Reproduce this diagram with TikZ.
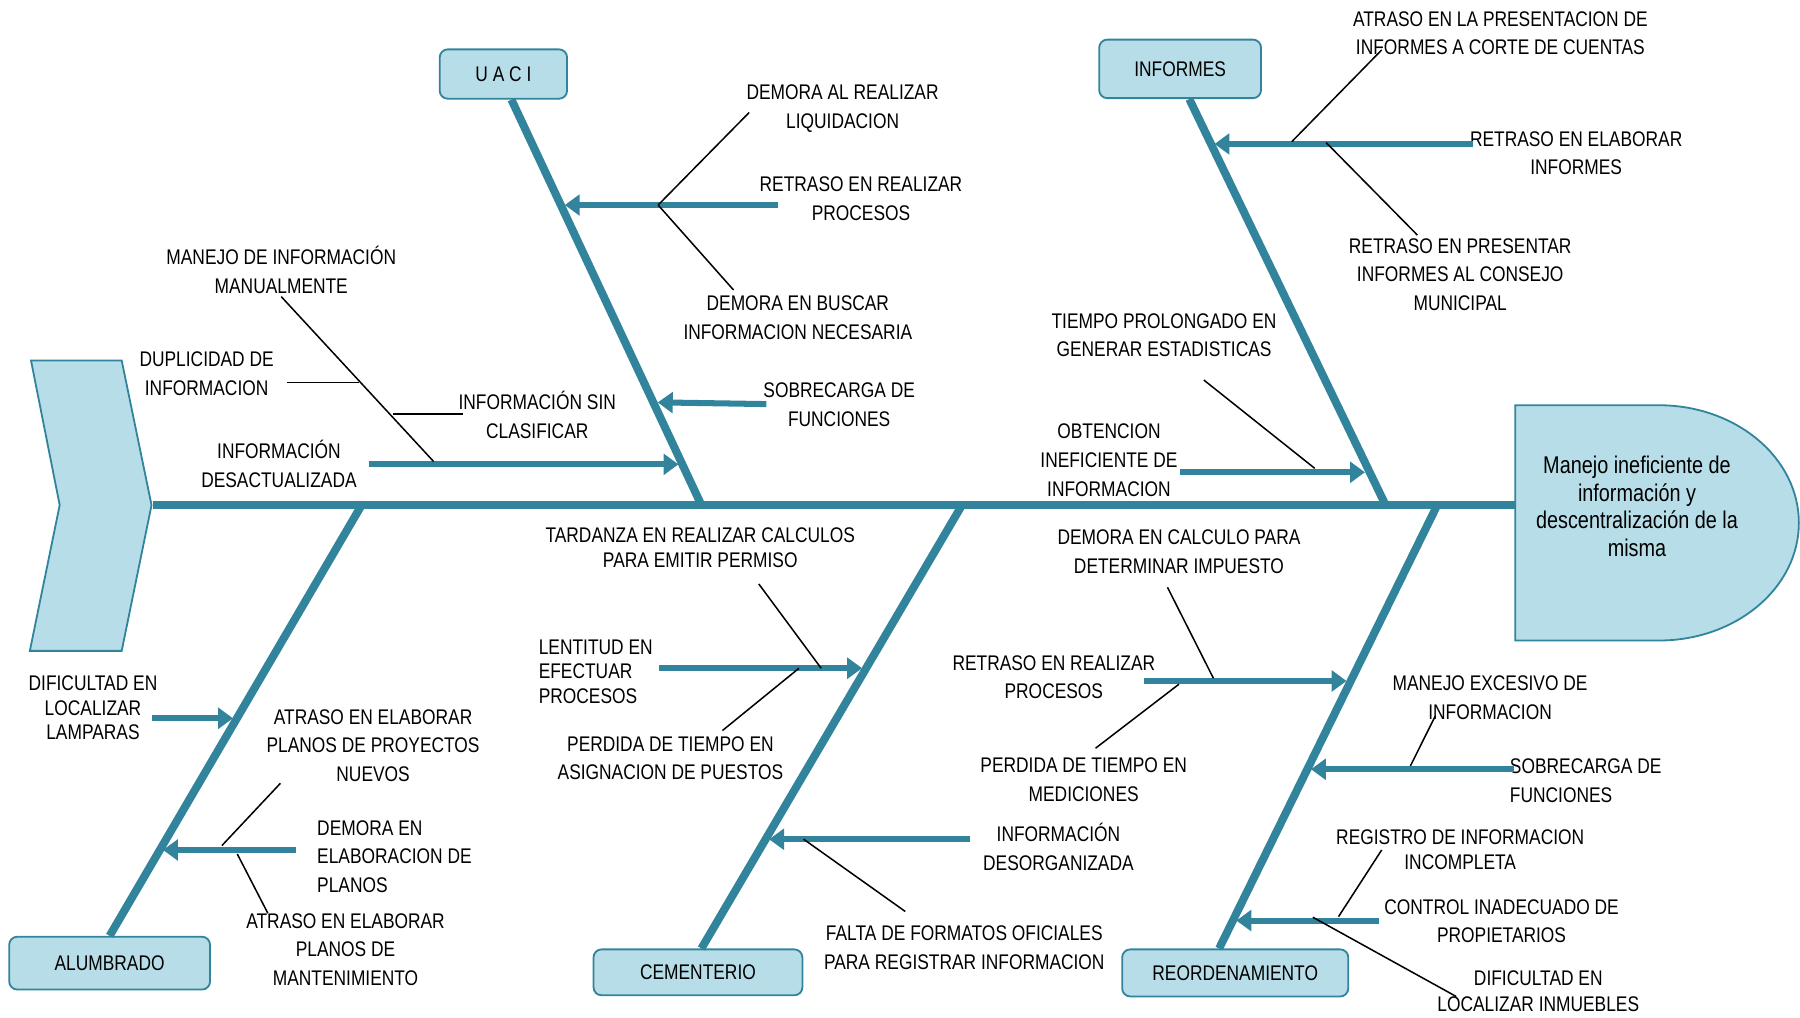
\documentclass[tikz,border=0pt]{standalone}
\usepackage{fontspec}
\setmainfont{Liberation Sans}[FakeStretch=0.82]
\usetikzlibrary{arrows.meta}
\definecolor{teal}{HTML}{31849B}
\definecolor{paleblue}{HTML}{B7DEE8}
\begin{document}
\begin{tikzpicture}[x=0.02cm,y=-0.02cm,
  catbox/.style={draw=teal,fill=paleblue,rounded corners=4pt,line width=0.9pt,inner sep=0pt,align=center,font=\fontsize{10.5}{14.2}\selectfont},
  shape fill/.style={draw=teal,fill=paleblue,line width=0.9pt},
  bone/.style={draw=teal,line width=0.14cm},
  cause/.style={draw=teal,line width=0.105cm,-{Triangle[length=0.26cm,width=0.36cm]}},
  twig/.style={draw=black,line width=0.75pt},
  lbl/.style={align=center,inner sep=0pt,font=\fontsize{10.5}{14.2}\selectfont},
  lbltight/.style={lbl,font=\fontsize{10.5}{12.2}\selectfont},
  lblleft/.style={lbl,align=left,anchor=west}]
\useasboundingbox (0,0) rectangle (1568,886);

% tail of the fish
\draw[shape fill] (27,314) -- (106,314) -- (132,440) -- (106,567) -- (26,567) -- (52,440) -- cycle;
\coordinate (tail) at (133,440);

% head of the fish
\draw[shape fill] (1320,353) -- (1445,353) arc[start angle=90,end angle=-90,x radius=2.44cm,y radius=2.05cm] -- (1320,558) -- cycle;
\node[lbl,font=\fontsize{12}{13.6}\selectfont] (head) at (1426,441) {Manejo ineficiente de\\información y\\descentralización de la\\misma};
\coordinate (headl) at (1321,440);

% spine
\draw[bone] (tail) -- (headl);

% category boxes
\node[catbox,minimum width=2.22cm,minimum height=0.86cm] (uaci) at (438.5,64.5) {U A C I};
\node[catbox,minimum width=2.82cm,minimum height=1.02cm] (inf) at (1028,60) {INFORMES};
\node[catbox,minimum width=3.5cm,minimum height=0.92cm] (alum) at (95.5,839) {ALUMBRADO};
\node[catbox,minimum width=3.64cm,minimum height=0.8cm] (cem) at (608,847) {CEMENTERIO};
\node[catbox,minimum width=3.94cm,minimum height=0.82cm] (reo) at (1076,847.5) {REORDENAMIENTO};

% points where the bones meet the spine
\coordinate (sU) at (611,440);
\coordinate (sI) at (1207,440);
\coordinate (sA) at (315,440);
\coordinate (sC) at (838,440);
\coordinate (sR) at (1252,440);

% main bones
\draw[bone] ([xshift=0.14cm]uaci.south) -- (sU);
\draw[bone] ([xshift=0.16cm]inf.south) -- (sI);
\draw[bone] (alum.north) -- (sA);
\draw[bone] ([xshift=0.06cm]cem.north) -- (sC);
\draw[bone] ([xshift=-0.28cm]reo.north) -- (sR);

% ---------- U A C I ----------
\node[lbl] (liq) at (734,94.5) {DEMORA AL REALIZAR\\LIQUIDACION};
\node[lbl] (proc1) at (750,173) {RETRASO EN REALIZAR\\PROCESOS};
\node[lbl] (busc) at (695,276.5) {DEMORA EN BUSCAR\\INFORMACION NECESARIA};
\node[lbl] (sob1) at (731,352.5) {SOBRECARGA DE\\FUNCIONES};
\node[lbl] (desact) at (243,404) {INFORMACIÓN\\DESACTUALIZADA};
\node[lbl] (manual) at (245,235) {MANEJO DE INFORMACIÓN\\MANUALMENTE};
\node[lbl] (dupl) at (180,325.5) {DUPLICIDAD DE\\INFORMACION};
\node[lbl] (sincl) at (468,361.5) {INFORMACIÓN SIN\\CLASIFICAR};

\coordinate (p1a) at (678,178.6);  \coordinate (p1b) at (492,178.6);
\coordinate (s1a) at (667.6,352);  \coordinate (s1b) at (573,350.5);
\coordinate (d1a) at (321,404.5);  \coordinate (d1b) at (591,404.5);
\draw[cause] (p1a) -- (p1b);
\draw[cause] (s1a) -- (s1b);
\draw[cause] (d1a) -- (d1b);

\coordinate (j1) at (573.3,178.6);
\coordinate (liqe) at (652.6,98);
\coordinate (busce) at (639,252.6);
\draw[twig] (j1) -- (liqe);
\draw[twig] (j1) -- (busce);
\coordinate (j2) at (377.7,402);
\coordinate (mane) at (245,258.4);
\draw[twig] (j2) -- (mane);
\coordinate (dupa) at (250,333);   \coordinate (dupb) at (312.5,333);
\coordinate (sina) at (342.7,360.6); \coordinate (sinb) at (403.3,360.6);
\draw[twig] (dupa) -- (dupb);
\draw[twig] (sina) -- (sinb);

% ---------- INFORMES ----------
\node[lbl] (corte) at (1307,29) {ATRASO EN LA PRESENTACION DE\\INFORMES A CORTE DE CUENTAS};
\node[lbl] (elab) at (1373,133.5) {RETRASO EN ELABORAR\\INFORMES};
\node[lbl] (consejo) at (1272,239) {RETRASO EN PRESENTAR\\INFORMES AL CONSEJO\\MUNICIPAL};
\node[lbl] (estad) at (1014,292) {TIEMPO PROLONGADO EN\\GENERAR ESTADISTICAS};
\node[lbl] (obt) at (966,401) {OBTENCION\\INEFICIENTE DE\\INFORMACION};

\coordinate (e1a) at (1283,125.4); \coordinate (e1b) at (1058,125.4);
\coordinate (o1a) at (1027.6,411.4); \coordinate (o1b) at (1189,411.4);
\draw[cause] (e1a) -- (e1b);
\draw[cause] (o1a) -- (o1b);
\coordinate (j3) at (1125.3,123.4); \coordinate (cortee) at (1203.6,43.5);
\coordinate (j4) at (1155.3,124.3); \coordinate (consee) at (1234.6,204.7);
\coordinate (j5) at (1145.3,408);   \coordinate (estae) at (1048.6,331);
\draw[twig] (j3) -- (cortee);
\draw[twig] (j4) -- (consee);
\draw[twig] (j5) -- (estae);

% ---------- ALUMBRADO ----------
\node[lbltight] (lamp) at (81,616.5) {DIFICULTAD EN\\LOCALIZAR\\LAMPARAS};
\node[lbl] (nuevos) at (325,649.5) {ATRASO EN ELABORAR\\PLANOS DE PROYECTOS\\NUEVOS};
\node[lblleft] (planos) at (276,746) {DEMORA EN\\ELABORACION DE\\PLANOS};
\node[lbl] (mant) at (301,827) {ATRASO EN ELABORAR\\PLANOS DE\\MANTENIMIENTO};

\coordinate (l1a) at (132.3,625.7); \coordinate (l1b) at (203,625.7);
\coordinate (q1a) at (257.7,740.4); \coordinate (q1b) at (142,740.4);
\draw[cause] (l1a) -- (l1b);
\draw[cause] (q1a) -- (q1b);
\coordinate (j6) at (193.3,736.6); \coordinate (nuee) at (244.3,682.3);
\coordinate (j7) at (206.7,743.9); \coordinate (mante) at (233.3,795.5);
\draw[twig] (j6) -- (nuee);
\draw[twig] (j7) -- (mante);

% ---------- CEMENTERIO ----------
\node[lbltight] (tard) at (610,477) {TARDANZA EN REALIZAR CALCULOS\\PARA EMITIR PERMISO};
\node[lbltight,align=left,anchor=west] (lent) at (469,585) {LENTITUD EN\\EFECTUAR\\PROCESOS};
\node[lbl] (asig) at (584,660.5) {PERDIDA DE TIEMPO EN\\ASIGNACION DE PUESTOS};
\node[lbl] (desorg) at (922,737.5) {INFORMACIÓN\\DESORGANIZADA};
\node[lbl] (falta) at (840,825.5) {FALTA DE FORMATOS OFICIALES\\PARA REGISTRAR INFORMACION};

\coordinate (t1a) at (574.3,582.1); \coordinate (t1b) at (751,582.1);
\coordinate (g1a) at (845.3,731.1); \coordinate (g1b) at (670,731.1);
\draw[cause] (t1a) -- (t1b);
\draw[cause] (g1a) -- (g1b);
\coordinate (j8) at (715.3,582.1);  \coordinate (tarde) at (661,508.7);
\coordinate (j9) at (696,582.1);    \coordinate (asige) at (629.3,636.4);
\coordinate (j10) at (700,731);     \coordinate (faltae) at (788.6,794);
\draw[twig] (j8) -- (tarde);
\draw[twig] (j9) -- (asige);
\draw[twig] (j10) -- (faltae);

% ---------- REORDENAMIENTO ----------
\node[lbl] (imp) at (1027,480.5) {DEMORA EN CALCULO PARA\\DETERMINAR IMPUESTO};
\node[lbl] (proc2) at (918,590) {RETRASO EN REALIZAR\\PROCESOS};
\node[lbl] (medic) at (944,679) {PERDIDA DE TIEMPO EN\\MEDICIONES};
\node[lbl] (exces) at (1298,607.5) {MANEJO EXCESIVO DE\\INFORMACION};
\node[lblleft] (sob2) at (1315,680) {SOBRECARGA DE\\FUNCIONES};
\node[lbltight] (regis) at (1272,740) {REGISTRO DE INFORMACION\\INCOMPLETA};
\node[lbl] (ctrl) at (1308,802.5) {CONTROL INADECUADO DE\\PROPIETARIOS};
\node[lbl,font=\fontsize{10.5}{13}\selectfont] (inmu) at (1340,863.5) {DIFICULTAD EN\\LOCALIZAR INMUEBLES};

\coordinate (r1a) at (996.6,593.2); \coordinate (r1b) at (1173,593.2);
\coordinate (b1a) at (1318.6,670.1); \coordinate (b1b) at (1142,670.1);
\coordinate (c1a) at (1201,801.9); \coordinate (c1b) at (1077,801.9);
\draw[cause] (r1a) -- (r1b);
\draw[cause] (b1a) -- (b1b);
\draw[cause] (c1a) -- (c1b);
\coordinate (j11) at (1057,590.8);   \coordinate (impe) at (1017,511.6);
\coordinate (j12) at (1027,596);     \coordinate (medie) at (954.3,651.8);
\coordinate (j13) at (1228.6,667.2); \coordinate (excee) at (1250.3,623.7);
\coordinate (j14) at (1166,798.5);   \coordinate (regie) at (1203.6,740.4);
\coordinate (j15) at (1143.6,799);   \coordinate (inmue) at (1268.6,868.1);
\draw[twig] (j11) -- (impe);
\draw[twig] (j12) -- (medie);
\draw[twig] (j13) -- (excee);
\draw[twig] (j14) -- (regie);
\draw[twig] (j15) -- (inmue);
\end{tikzpicture}
\end{document}
